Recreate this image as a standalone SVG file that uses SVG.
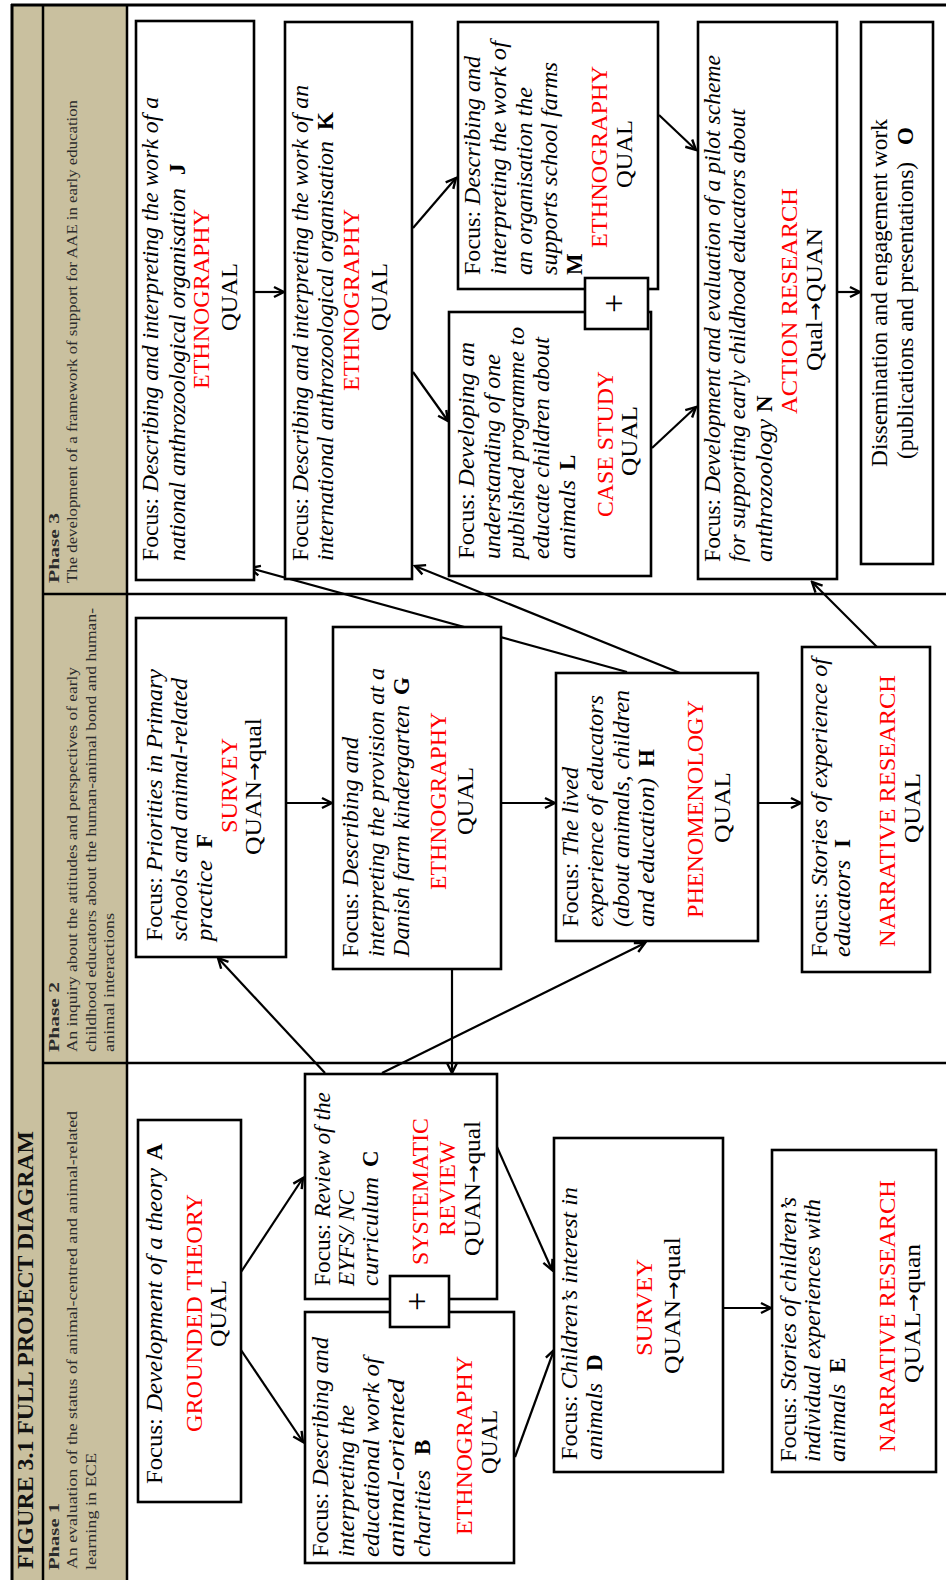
<svg xmlns="http://www.w3.org/2000/svg" width="946" height="1580" viewBox="0 0 946 1580">
<defs>
<style>
.box{fill:#fff;stroke:#000;stroke-width:2.6}
.t{font-family:"Liberation Serif","Times New Roman",serif;font-size:23px;fill:#000}
.i{font-style:italic}
.red{fill:#ff0000}
.b{font-weight:bold}
.ar{font-family:"DejaVu Sans",sans-serif;font-size:20px}
.ph{font-family:"Liberation Serif","Times New Roman",serif;font-size:15px;fill:#2b2b2b}
.ttl{font-family:"Liberation Serif","Times New Roman",serif;font-size:23px;font-weight:bold;fill:#111}
.conn{stroke:#000;stroke-width:2.2;fill:none;marker-end:url(#ah)}
.frame{stroke:#000;fill:none}
.plus{font-family:"Liberation Serif",serif;font-size:34px;fill:#000;text-anchor:middle}
</style>
<marker id="ah" viewBox="0 0 14 14" refX="12" refY="7" markerWidth="14" markerHeight="14" markerUnits="userSpaceOnUse" orient="auto">
<path d="M2,2 L12,7 L2,12" fill="none" stroke="#000" stroke-width="2.4"/>
</marker>
</defs>
<rect x="0" y="0" width="946" height="1580" fill="#fff"/>
<g transform="translate(0,1580) rotate(-90)">
<g id="frame">
<rect x="0" y="12" width="1575" height="115" fill="#C9C09F"/>
<line class="frame" x1="0" y1="12" x2="1576" y2="12" stroke-width="3"/>
<line class="frame" x1="1575" y1="11" x2="1575" y2="946" stroke-width="3"/>
<line class="frame" x1="0" y1="43" x2="1575" y2="43" stroke-width="2.5"/>
<line class="frame" x1="0" y1="127" x2="1575" y2="127" stroke-width="2.5"/>
<line class="frame" x1="986" y1="43" x2="986" y2="946" stroke-width="2.5"/>
<line class="frame" x1="517" y1="43" x2="517" y2="946" stroke-width="2.5"/>
<text class="ttl" x="11" y="33" textLength="438" lengthAdjust="spacingAndGlyphs">FIGURE 3.1 FULL PROJECT DIAGRAM</text>
<text class="ph b" x="10" y="59" textLength="67" lengthAdjust="spacingAndGlyphs">Phase 1</text>
<text class="ph" x="11" y="77" textLength="458" lengthAdjust="spacingAndGlyphs">An evaluation of the status of animal-centred and animal-related</text>
<text class="ph" x="10" y="96" textLength="117" lengthAdjust="spacingAndGlyphs">learning in ECE</text>
<text class="ph b" x="528" y="59" textLength="70" lengthAdjust="spacingAndGlyphs">Phase 2</text>
<text class="ph" x="528" y="77" textLength="385" lengthAdjust="spacingAndGlyphs">An inquiry about the attitudes and perspectives of early</text>
<text class="ph" x="528" y="96" textLength="444" lengthAdjust="spacingAndGlyphs">childhood educators about the human-animal bond and human-</text>
<text class="ph" x="528" y="114" textLength="139" lengthAdjust="spacingAndGlyphs">animal interactions</text>
<text class="ph b" x="997" y="59" textLength="70" lengthAdjust="spacingAndGlyphs">Phase 3</text>
<text class="ph" x="997" y="77" textLength="483" lengthAdjust="spacingAndGlyphs">The development of a framework of support for AAE in early education</text>
</g>
<g id="connectors">
<path class="conn" d="M308,241 L402,303"/>
<path class="conn" d="M230,241 L138,303"/>
<path class="conn" d="M433,497 L310,552"/>
<path class="conn" d="M123,515 L230,554"/>
<path class="conn" d="M272,723 L272,771"/>
<path class="conn" d="M507,325 L622,218"/>
<path class="conn" d="M507,382 L637,645"/>
<path class="conn" d="M611,452 L507,452"/>
<path class="conn" d="M777,286 L777,332"/>
<path class="conn" d="M777,501 L777,555"/>
<path class="conn" d="M777,758 L777,801"/>
<path class="conn" d="M908,627 L1012,250"/>
<path class="conn" d="M907,680 L1014,415"/>
<path class="conn" d="M933,877 L998,812"/>
<path class="conn" d="M1288,254 L1288,284"/>
<path class="conn" d="M1352,413 L1402,456"/>
<path class="conn" d="M1208,413 L1159,448"/>
<path class="conn" d="M1465,659 L1430,696"/>
<path class="conn" d="M1132,652 L1173,696"/>
<path class="conn" d="M1288,837 L1288,860"/>
</g>
<g id="node-A">
<rect class="box" x="78" y="138" width="382" height="103"/>
<text class="t" x="96" y="162" textLength="316" lengthAdjust="spacingAndGlyphs">Focus: <tspan class="i">Development of a theory</tspan></text>
<text class="t b" x="420" y="162">A</text>
<text class="t red" x="148" y="202" textLength="238" lengthAdjust="spacingAndGlyphs">GROUNDED THEORY</text>
<text class="t" x="233" y="226" textLength="67" lengthAdjust="spacingAndGlyphs">QUAL</text>
</g>
<g id="node-B">
<rect class="box" x="17" y="305" width="251" height="209"/>
<text class="t" x="23" y="328" textLength="220" lengthAdjust="spacingAndGlyphs">Focus: <tspan class="i">Describing and</tspan></text>
<text class="t i" x="23" y="354" textLength="152" lengthAdjust="spacingAndGlyphs">interpreting the</text>
<text class="t i" x="23" y="379" textLength="200" lengthAdjust="spacingAndGlyphs">educational work of</text>
<text class="t i" x="23" y="404" textLength="178" lengthAdjust="spacingAndGlyphs">animal-oriented</text>
<text class="t i" x="23" y="430" textLength="87" lengthAdjust="spacingAndGlyphs">charities</text>
<text class="t b" x="125" y="430">B</text>
<text class="t red" x="45" y="472" textLength="179" lengthAdjust="spacingAndGlyphs">ETHNOGRAPHY</text>
<text class="t" x="106" y="497" textLength="64" lengthAdjust="spacingAndGlyphs">QUAL</text>
</g>
<g id="node-C">
<rect class="box" x="281" y="305" width="225" height="192"/>
<text class="t" x="294" y="330" textLength="194" lengthAdjust="spacingAndGlyphs">Focus: <tspan class="i">Review of the</tspan></text>
<text class="t i" x="294" y="354" textLength="96" lengthAdjust="spacingAndGlyphs">EYFS/ NC</text>
<text class="t i" x="294" y="378" textLength="109" lengthAdjust="spacingAndGlyphs">curriculum</text>
<text class="t b" x="413" y="378">C</text>
<text class="t red" x="315" y="428" textLength="147" lengthAdjust="spacingAndGlyphs">SYSTEMATIC</text>
<text class="t red" x="344" y="455" textLength="95" lengthAdjust="spacingAndGlyphs">REVIEW</text>
<text class="t" x="324" y="480" textLength="135" lengthAdjust="spacingAndGlyphs">QUAN<tspan class="ar">→</tspan>qual</text>
</g>
<g id="plus-BC">
<rect class="box" x="253" y="390" width="51" height="59"/>
<text class="plus" x="278.5" y="428">+</text>
</g>
<g id="node-D">
<rect class="box" x="108" y="554" width="334" height="169"/>
<text class="t" x="120" y="577" textLength="273" lengthAdjust="spacingAndGlyphs">Focus: <tspan class="i">Children’s interest in</tspan></text>
<text class="t i" x="120" y="602" textLength="77" lengthAdjust="spacingAndGlyphs">animals</text>
<text class="t b" x="209" y="602">D</text>
<text class="t red" x="224" y="652" textLength="97" lengthAdjust="spacingAndGlyphs">SURVEY</text>
<text class="t" x="206" y="680" textLength="137" lengthAdjust="spacingAndGlyphs">QUAN<tspan class="ar">→</tspan>qual</text>
</g>
<g id="node-E">
<rect class="box" x="108" y="772" width="322" height="164"/>
<text class="t" x="118" y="796" textLength="265" lengthAdjust="spacingAndGlyphs">Focus: <tspan class="i">Stories of children’s</tspan></text>
<text class="t i" x="118" y="820" textLength="263" lengthAdjust="spacingAndGlyphs">individual experiences with</text>
<text class="t i" x="118" y="845" textLength="78" lengthAdjust="spacingAndGlyphs">animals</text>
<text class="t b" x="207" y="845">E</text>
<text class="t red" x="128" y="895" textLength="272" lengthAdjust="spacingAndGlyphs">NARRATIVE RESEARCH</text>
<text class="t" x="197" y="920" textLength="139" lengthAdjust="spacingAndGlyphs">QUAL<tspan class="ar">→</tspan>quan</text>
</g>
<g id="node-F">
<rect class="box" x="623" y="136" width="339" height="150"/>
<text class="t" x="639" y="162" textLength="272" lengthAdjust="spacingAndGlyphs">Focus: <tspan class="i">Priorities in Primary</tspan></text>
<text class="t i" x="639" y="187" textLength="263" lengthAdjust="spacingAndGlyphs">schools and animal-related</text>
<text class="t i" x="639" y="212" textLength="81" lengthAdjust="spacingAndGlyphs">practice</text>
<text class="t b" x="732" y="212">F</text>
<text class="t red" x="747" y="237" textLength="95" lengthAdjust="spacingAndGlyphs">SURVEY</text>
<text class="t" x="725" y="261" textLength="137" lengthAdjust="spacingAndGlyphs">QUAN<tspan class="ar">→</tspan>qual</text>
</g>
<g id="node-G">
<rect class="box" x="611" y="333" width="342" height="168"/>
<text class="t" x="623" y="358" textLength="220" lengthAdjust="spacingAndGlyphs">Focus: <tspan class="i">Describing and</tspan></text>
<text class="t i" x="623" y="384" textLength="289" lengthAdjust="spacingAndGlyphs">interpreting the provision at a</text>
<text class="t i" x="623" y="409" textLength="252" lengthAdjust="spacingAndGlyphs">Danish farm kindergarten</text>
<text class="t b" x="885" y="409">G</text>
<text class="t red" x="690" y="446" textLength="178" lengthAdjust="spacingAndGlyphs">ETHNOGRAPHY</text>
<text class="t" x="745" y="473" textLength="68" lengthAdjust="spacingAndGlyphs">QUAL</text>
</g>
<g id="node-H">
<rect class="box" x="639" y="556" width="268" height="202"/>
<text class="t" x="653" y="578" textLength="160" lengthAdjust="spacingAndGlyphs">Focus: <tspan class="i">The lived</tspan></text>
<text class="t i" x="653" y="603" textLength="232" lengthAdjust="spacingAndGlyphs">experience of educators</text>
<text class="t i" x="653" y="629" textLength="237" lengthAdjust="spacingAndGlyphs">(about animals, children</text>
<text class="t i" x="653" y="654" textLength="149" lengthAdjust="spacingAndGlyphs">and education)</text>
<text class="t b" x="813" y="654">H</text>
<text class="t red" x="662" y="703" textLength="218" lengthAdjust="spacingAndGlyphs">PHENOMENOLOGY</text>
<text class="t" x="737" y="730" textLength="71" lengthAdjust="spacingAndGlyphs">QUAL</text>
</g>
<g id="node-I">
<rect class="box" x="608" y="802" width="325" height="128"/>
<text class="t" x="623" y="827" textLength="299" lengthAdjust="spacingAndGlyphs">Focus: <tspan class="i">Stories of experience of</tspan></text>
<text class="t i" x="623" y="850" textLength="97" lengthAdjust="spacingAndGlyphs">educators</text>
<text class="t b" x="732" y="850">I</text>
<text class="t red" x="633" y="895" textLength="272" lengthAdjust="spacingAndGlyphs">NARRATIVE RESEARCH</text>
<text class="t" x="737" y="920" textLength="70" lengthAdjust="spacingAndGlyphs">QUAL</text>
</g>
<g id="node-J">
<rect class="box" x="1000" y="136" width="559" height="118"/>
<text class="t" x="1019" y="158" textLength="464" lengthAdjust="spacingAndGlyphs">Focus: <tspan class="i">Describing and interpreting the work of a</tspan></text>
<text class="t i" x="1019" y="185" textLength="373" lengthAdjust="spacingAndGlyphs">national anthrozoological organisation</text>
<text class="t b" x="1405" y="185">J</text>
<text class="t red" x="1191" y="209" textLength="180" lengthAdjust="spacingAndGlyphs">ETHNOGRAPHY</text>
<text class="t" x="1249" y="237" textLength="68" lengthAdjust="spacingAndGlyphs">QUAL</text>
</g>
<g id="node-K">
<rect class="box" x="1001" y="285" width="557" height="127"/>
<text class="t" x="1019" y="308" textLength="476" lengthAdjust="spacingAndGlyphs">Focus: <tspan class="i">Describing and interpreting the work of an</tspan></text>
<text class="t i" x="1019" y="333" textLength="420" lengthAdjust="spacingAndGlyphs">international anthrozoological organisation</text>
<text class="t b" x="1450" y="333">K</text>
<text class="t red" x="1189" y="359" textLength="182" lengthAdjust="spacingAndGlyphs">ETHNOGRAPHY</text>
<text class="t" x="1249" y="387" textLength="68" lengthAdjust="spacingAndGlyphs">QUAL</text>
</g>
<g id="node-M">
<rect class="box" x="1291" y="458" width="267" height="200"/>
<text class="t" x="1305" y="480" textLength="219" lengthAdjust="spacingAndGlyphs">Focus: <tspan class="i">Describing and</tspan></text>
<text class="t i" x="1305" y="506" textLength="234" lengthAdjust="spacingAndGlyphs">interpreting the work of</text>
<text class="t i" x="1305" y="532" textLength="188" lengthAdjust="spacingAndGlyphs">an organisation the</text>
<text class="t i" x="1305" y="557" textLength="213" lengthAdjust="spacingAndGlyphs">supports school farms</text>
<text class="t b" x="1305" y="582">M</text>
<text class="t red" x="1332" y="607" textLength="182" lengthAdjust="spacingAndGlyphs">ETHNOGRAPHY</text>
<text class="t" x="1392" y="632" textLength="68" lengthAdjust="spacingAndGlyphs">QUAL</text>
</g>
<g id="node-L">
<rect class="box" x="1004" y="449" width="264" height="202"/>
<text class="t" x="1021" y="474" textLength="217" lengthAdjust="spacingAndGlyphs">Focus: <tspan class="i">Developing an</tspan></text>
<text class="t i" x="1021" y="500" textLength="205" lengthAdjust="spacingAndGlyphs">understanding of one</text>
<text class="t i" x="1021" y="524" textLength="232" lengthAdjust="spacingAndGlyphs">published programme to</text>
<text class="t i" x="1021" y="549" textLength="222" lengthAdjust="spacingAndGlyphs">educate children about</text>
<text class="t i" x="1021" y="575" textLength="79" lengthAdjust="spacingAndGlyphs">animals</text>
<text class="t b" x="1110" y="575">L</text>
<text class="t red" x="1063" y="613" textLength="146" lengthAdjust="spacingAndGlyphs">CASE STUDY</text>
<text class="t" x="1104" y="637" textLength="70" lengthAdjust="spacingAndGlyphs">QUAL</text>
</g>
<g id="plus-ML">
<rect class="box" x="1251" y="585" width="51" height="63"/>
<text class="plus" x="1276.5" y="625">+</text>
</g>
<g id="node-N">
<rect class="box" x="1001" y="698" width="557" height="139"/>
<text class="t" x="1018" y="720" textLength="507" lengthAdjust="spacingAndGlyphs">Focus: <tspan class="i">Development and evaluation of a pilot scheme</tspan></text>
<text class="t i" x="1018" y="745" textLength="453" lengthAdjust="spacingAndGlyphs">for supporting early childhood educators about</text>
<text class="t i" x="1018" y="772" textLength="143" lengthAdjust="spacingAndGlyphs">anthrozoology</text>
<text class="t b" x="1168" y="772">N</text>
<text class="t red" x="1166" y="797" textLength="226" lengthAdjust="spacingAndGlyphs">ACTION RESEARCH</text>
<text class="t" x="1209" y="822" textLength="143" lengthAdjust="spacingAndGlyphs">Qual<tspan class="ar">→</tspan>QUAN</text>
</g>
<g id="node-O">
<rect class="box" x="1016" y="861" width="542" height="72"/>
<text class="t" x="1113" y="887" textLength="348" lengthAdjust="spacingAndGlyphs">Dissemination and engagement work</text>
<text class="t" x="1121" y="913" textLength="297" lengthAdjust="spacingAndGlyphs">(publications and presentations)</text>
<text class="t b" x="1435" y="913">O</text>
</g>
</g>
</svg>
